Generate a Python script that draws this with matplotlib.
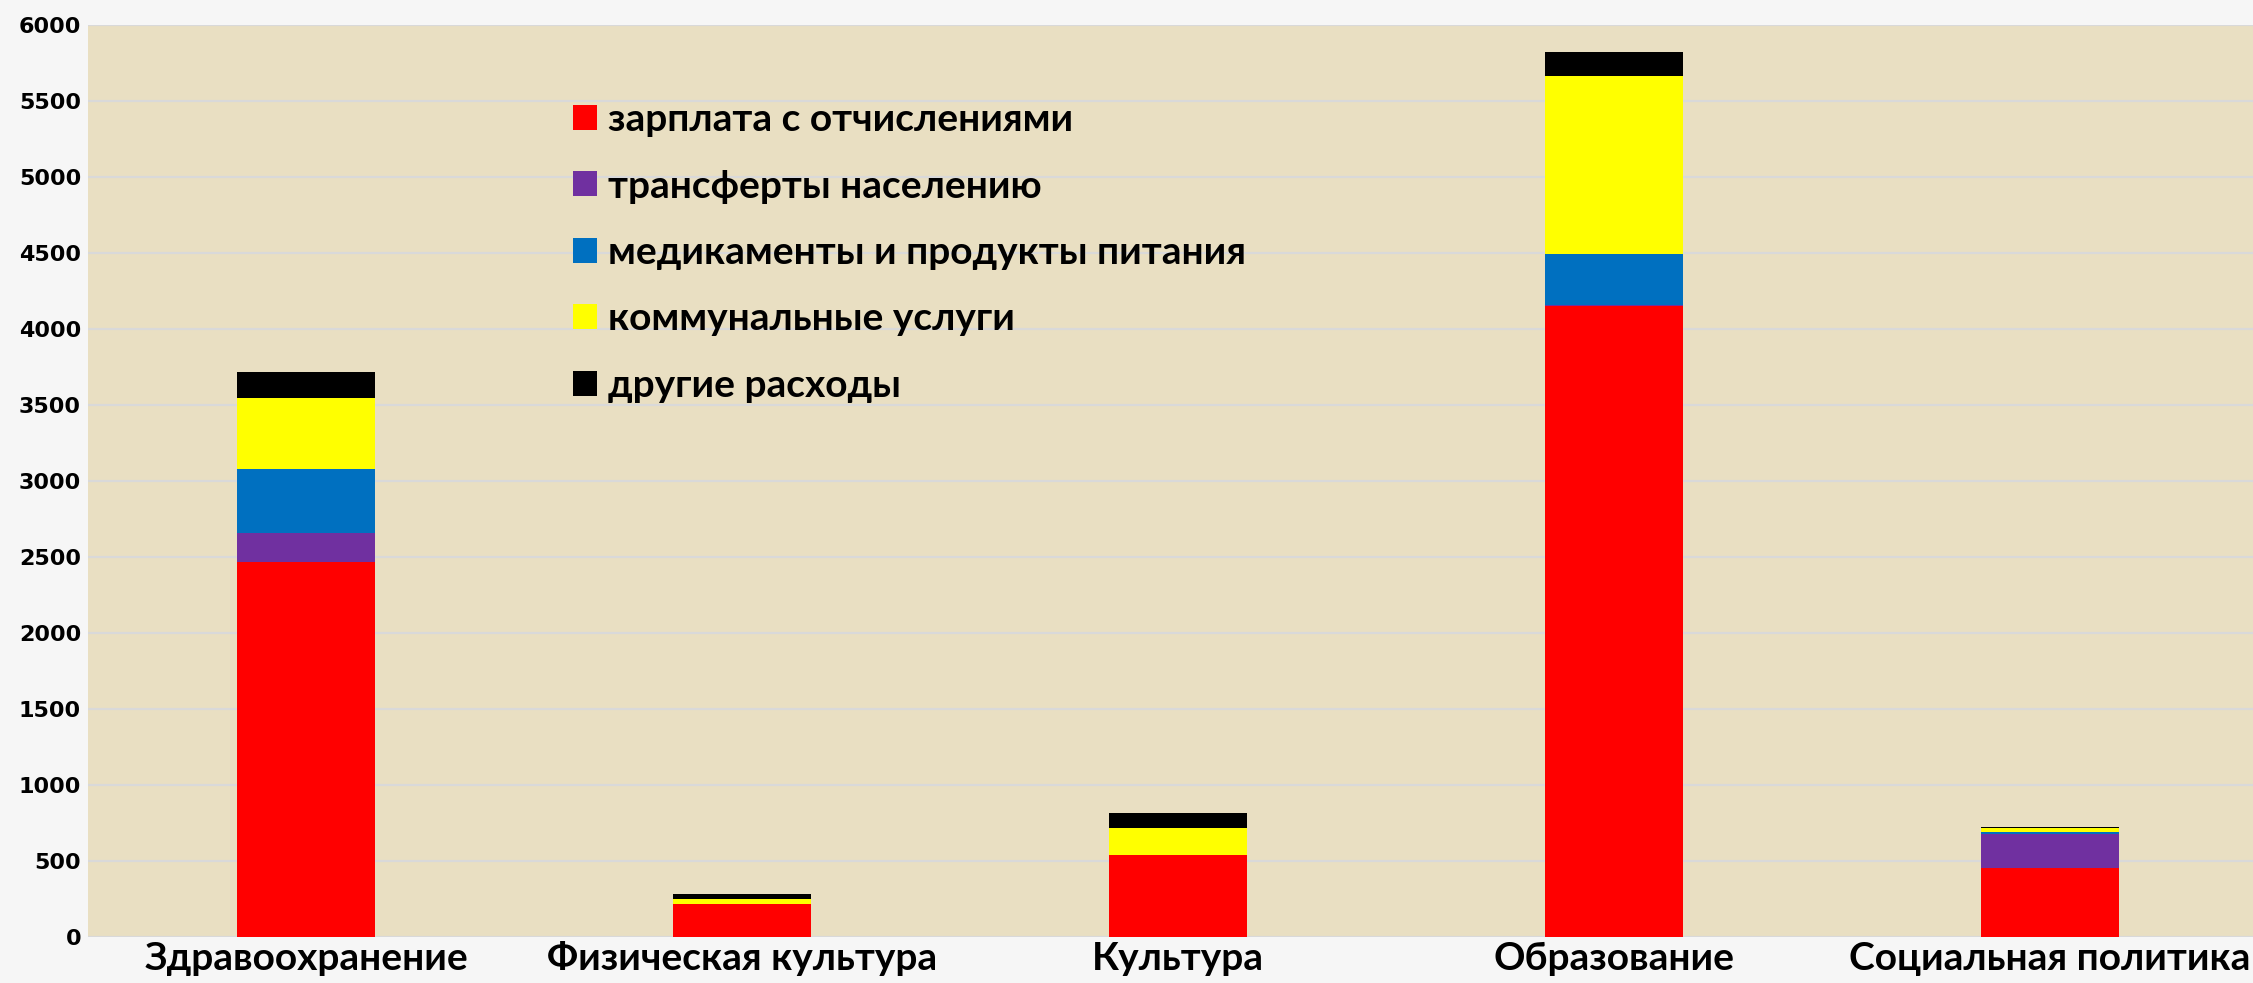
import numpy as np
from matplotlib import pyplot as plt

# Categories and stacked series
categories = ['Здравоохранение', 'Физическая культура', 'Культура', 'Образование', 'Социальная политика']
salary = [2465, 217, 539, 4152, 455]
transfers = [190, 0, 0, 8, 224]
medicines = [427, 0, 0, 335, 11]
utilities = [467, 33, 177, 1170, 26]
other = [171, 33, 99, 157, 7]

series_names = ['зарплата с отчислениями', 'трансферты населению',
                'медикаменты и продукты питания', 'коммунальные услуги', 'другие расходы']
series_values = [salary, transfers, medicines, utilities, other]
series_colors = ['#FF0000', '#7030A0', '#0070C0', '#FFFF00', '#000000']

fig = plt.figure(figsize=(22.53, 9.83), dpi=100, facecolor='#f6f6f6')
ax = fig.add_axes([88 / 2253, 1 - 937 / 983, 1 - 88 / 2253, (937 - 25) / 983])
ax.set_facecolor('#E9DFC2')

x = np.arange(len(categories))
bottom = np.zeros(len(categories))
handles = []
for name, vals, col in zip(series_names, series_values, series_colors):
    b = ax.bar(x, vals, width=0.315, bottom=bottom, color=col, label=name, zorder=3)
    handles.append(b)
    bottom += np.array(vals)

ax.set_xlim(-0.5, 4.466)
ax.set_ylim(0, 6000)
ax.set_yticks(np.arange(0, 6001, 500))
ax.grid(axis='y', color='#D9D9D9', linewidth=1.6, zorder=0)
ax.set_axisbelow(True)
for s in ax.spines.values():
    s.set_visible(False)
ax.tick_params(axis='both', length=0)
ax.tick_params(axis='y', pad=5)
ax.tick_params(axis='x', pad=3)

ax.set_xticks(x)
ax.set_xticklabels(categories, fontsize=28, fontweight='bold', family=['Lato', 'DejaVu Sans'])
for lbl in ax.get_yticklabels():
    lbl.set_fontsize(16)
    lbl.set_fontweight('bold')
    lbl.set_family(['DejaVu Sans'])

leg = fig.legend(handles=handles, loc='upper left', bbox_to_anchor=(573 / 2253, 1 - 102 / 983),
                 frameon=False, borderpad=0, borderaxespad=0,
                 handlelength=0.62, handleheight=0.62, handletextpad=0.27, labelspacing=0.81,
                 prop={'family': ['Lato', 'DejaVu Sans'], 'weight': 'bold', 'size': 28})

fig.savefig('out.png', dpi=100, facecolor=fig.get_facecolor())
